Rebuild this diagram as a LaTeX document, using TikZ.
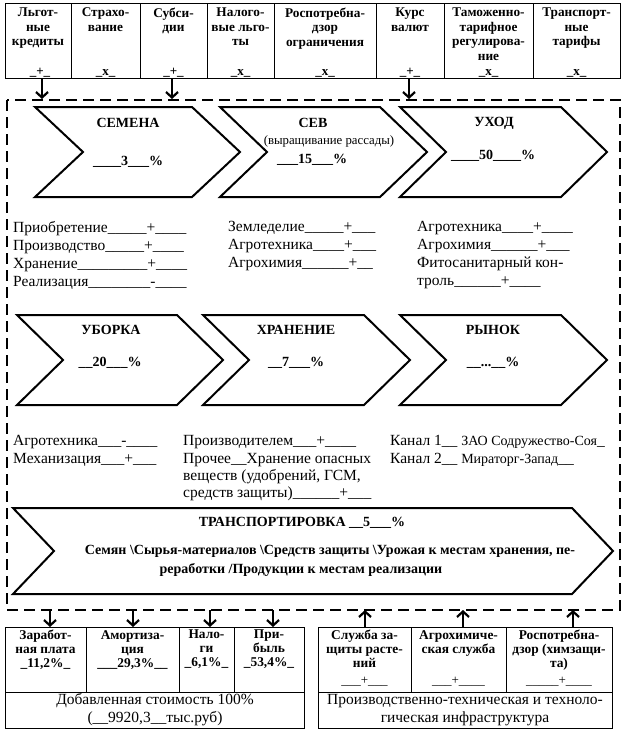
\documentclass[tikz,border=0pt]{standalone}
\usepackage{fontspec}
\setmainfont{Liberation Serif}
\usetikzlibrary{arrows.meta}
\newcommand\mychev[5]{%
  \draw[chev] (#1,#3) -- ({#2-#5},#3) -- (#2,{(#3+#4)/2}) -- ({#2-#5},#4) -- (#1,#4) -- ({#1+#5},{(#3+#4)/2}) -- cycle;}
\begin{document}
\begin{tikzpicture}[x=1pt,y=-1pt,
  tbl/.style={line width=0.8pt},
  chev/.style={line width=2pt, line join=miter},
  dashbox/.style={line width=2pt, dash pattern=on 11pt off 6pt},
  arr/.style={line width=2.2pt, -{Straight Barb[length=5.5pt,width=12pt]}},
  hdr/.style={font=\fontsize{13.3}{14.6}\selectfont\bfseries, align=center, inner sep=0, anchor=north},
  signlbl/.style={font=\fontsize{13}{14.5}\selectfont\bfseries, inner sep=0, anchor=base},
  ctitle/.style={font=\fontsize{14}{16}\selectfont\bfseries, inner sep=0},
  csub/.style={font=\fontsize{12.8}{14}\selectfont, inner sep=0},
  lst/.style={font=\fontsize{15.5}{18}\selectfont, align=left, inner sep=0, anchor=north west},
  lstb/.style={lst, font=\fontsize{15.5}{17.3}\selectfont},
  ttl/.style={font=\fontsize{14}{16}\selectfont\bfseries, inner sep=0},
  cell/.style={font=\fontsize{13.4}{14}\selectfont\bfseries, align=center, inner sep=0, anchor=north},
  plainlbl/.style={font=\fontsize{13}{14}\selectfont, inner sep=0, anchor=base},
  big/.style={font=\fontsize{15.5}{18}\selectfont, align=center, inner sep=0}
]
\useasboundingbox[fill=white] (0,0) rectangle (624,736);

% ---------- header table ----------
\draw[tbl] (5,3) rectangle (620,78);
\foreach \x in {71,140,207,274,376,444,533} \draw[tbl] (\x,3) -- (\x,78);
\node[hdr] (h1) at (38,7.5) {Льгот-\\ные\\кредиты};
\node[hdr] (h2) at (105.5,7.5) {Страхо-\\вание};
\node[hdr] (h3) at (173.5,7.5) {Субси-\\дии};
\node[hdr] (h4) at (240.5,7.5) {Налого-\\вые льго-\\ты};
\node[hdr] (h5) at (325,7.5) {Роспотребна-\\дзор\\ограничения};
\node[hdr] (h6) at (410,7.5) {Курс\\валют};
\node[hdr] (h7) at (488.5,7.5) {Таможенно-\\тарифное\\регулирова-\\ние};
\node[hdr] (h8) at (576.5,7.5) {Транспорт-\\ные\\тарифы};
\node[signlbl] (m1) at (40,75) {\_+\_};
\node[signlbl] (m2) at (105.5,75) {\_x\_};
\node[signlbl] (m3) at (173.5,75) {\_+\_};
\node[signlbl] (m4) at (240.5,75) {\_x\_};
\node[signlbl] (m5) at (325,75) {\_x\_};
\node[signlbl] (m6) at (410,75) {\_+\_};
\node[signlbl] (m7) at (488.5,75) {\_x\_};
\node[signlbl] (m8) at (576.5,75) {\_x\_};

% ---------- dashed frame ----------
\draw[dashbox] (7,100) rectangle (620,610);

% arrows from header into frame
\coordinate (ta1) at (42,79);  \coordinate (tb1) at (42,99);
\coordinate (ta2) at (172,79); \coordinate (tb2) at (172,99);
\coordinate (ta3) at (409,79); \coordinate (tb3) at (409,99);
\draw[arr] (ta1) -- (tb1);
\draw[arr] (ta2) -- (tb2);
\draw[arr] (ta3) -- (tb3);

% ---------- row 1 chevrons ----------
\mychev{35}{240}{107}{197}{48}
\mychev{220}{427}{107}{197}{47}
\mychev{400}{607}{107}{197}{46}
\node[ctitle] (c1t) at (128,123) {СЕМЕНА};
\node[ctitle] (c1p) at (128,162) {\_\_\_\_3\_\_\_\%};
\node[ctitle] (c2t) at (313,123) {СЕВ};
\node[csub] (c2s) at (329,141) {(выращивание рассады)};
\node[ctitle] (c2p) at (312,160) {\_\_\_15\_\_\_\%};
\node[ctitle] (c3t) at (494,123) {УХОД};
\node[ctitle] (c3p) at (493,156) {\_\_\_\_50\_\_\_\_\%};

% lists row 1
\node[lst] (l1) at (13,221.5) {Приобретение\_\_\_\_\_+\_\_\_\_\\Производство\_\_\_\_\_+\_\_\_\_\\Хранение\_\_\_\_\_\_\_\_\_+\_\_\_\_\\Реализация\_\_\_\_\_\_\_\_-\_\_\_\_};
\node[lst] (l2) at (228,221.5) {Земледелие\_\_\_\_\_+\_\_\_\\Агротехника\_\_\_\_+\_\_\_\\Агрохимия\_\_\_\_\_\_+\_\_};
\node[lst] (l3) at (417,221.5) {Агротехника\_\_\_\_+\_\_\_\_\\Агрохимия\_\_\_\_\_\_+\_\_\_\\Фитосанитарный кон-\\троль\_\_\_\_\_\_+\_\_\_\_};

% ---------- row 2 chevrons ----------
\mychev{17}{223}{315}{405}{46}
\mychev{203}{410}{315}{405}{46}
\mychev{400}{607}{315}{405}{46}
\node[ctitle] (c4t) at (111,330) {УБОРКА};
\node[ctitle] (c4p) at (110,363) {\_\_20\_\_\_\%};
\node[ctitle] (c5t) at (296,330) {ХРАНЕНИЕ};
\node[ctitle] (c5p) at (296,363) {\_\_7\_\_\_\%};
\node[ctitle] (c6t) at (493,330) {РЫНОК};
\node[ctitle] (c6p) at (493,363) {\_\_...\_\_\%};

% lists row 2
\node[lstb] (l4) at (13,435.5) {Агротехника\_\_\_-\_\_\_\_\\Механизация\_\_\_+\_\_\_};
\node[lstb] (l5) at (183,435.5) {Производителем\_\_\_+\_\_\_\_\\Прочее\_\_Хранение опасных\\веществ (удобрений, ГСМ,\\средств защиты)\_\_\_\_\_\_+\_\_\_};
\node[lstb] (l6) at (390,435.5) {Канал 1\_\_ {\fontsize{14}{17.3}\selectfont ЗАО Содружество-Соя}\_\\Канал 2\_\_ {\fontsize{14}{17.3}\selectfont Мираторг-Запад}\_\_};

% ---------- transport chevron ----------
\mychev{13}{613}{508}{594}{41}
\node[ttl] (tt) at (302,523) {ТРАНСПОРТИРОВКА \_\_5\_\_\_\%};
\node[ttl] (tl1) at (330,551) {Семян \textbackslash Сырья-материалов \textbackslash Средств защиты \textbackslash Урожая к местам хранения, пе-};
\node[ttl] (tl2) at (301,570) {реработки /Продукции к местам реализации};

% ---------- bottom-left table ----------
\draw[tbl] (5,627) rectangle (304,728);
\draw[tbl] (5,692) -- (304,692);
\foreach \x in {86,179,234} \draw[tbl] (\x,627) -- (\x,692);
\node[cell] (b1) at (45.5,630) {Заработ-\\ная плата\\\_11,2\%\_};
\node[cell] (b2) at (132.5,630) {Амортиза-\\ция\\\_\_\_29,3\%\_\_};
\node[cell] (b3) at (206.5,630) {Нало-\\ги\\\_6,1\%\_};
\node[cell] (b4) at (269,630) {При-\\быль\\\_53,4\%\_};
\node[big] (bs) at (155,710) {Добавленная стоимость 100\%\\(\_\_9920,3\_\_тыс.руб)};

\coordinate (da1) at (50,610);  \coordinate (db1) at (50,627);
\coordinate (da2) at (133,610); \coordinate (db2) at (133,627);
\coordinate (da3) at (210,610); \coordinate (db3) at (210,627);
\coordinate (da4) at (273,610); \coordinate (db4) at (273,627);
\draw[arr] (da1) -- (db1);
\draw[arr] (da2) -- (db2);
\draw[arr] (da3) -- (db3);
\draw[arr] (da4) -- (db4);

% ---------- bottom-right table ----------
\draw[tbl] (318,627) rectangle (612,728);
\draw[tbl] (318,692) -- (612,692);
\foreach \x in {411,506} \draw[tbl] (\x,627) -- (\x,692);
\node[cell] (r1) at (364.5,630) {Служба за-\\щиты расте-\\ний};
\node[cell] (r2) at (458.5,630) {Агрохимиче-\\ская служба};
\node[cell] (r3) at (559,630) {Роспотребна-\\дзор (химзащи-\\та)};
\node[plainlbl] (p1) at (364.5,684) {\_\_\_+\_\_\_};
\node[plainlbl] (p2) at (458.5,684) {\_\_\_+\_\_\_\_};
\node[plainlbl] (p3) at (559,684) {\_\_\_\_\_+\_\_\_\_};
\node[big] (rs) at (465,710) {Производственно-техническая и техноло-\\гическая инфраструктура};

\coordinate (ua1) at (365,627); \coordinate (ub1) at (365,610);
\coordinate (ua2) at (463,627); \coordinate (ub2) at (463,610);
\coordinate (ua3) at (573,627); \coordinate (ub3) at (573,610);
\draw[arr] (ua1) -- (ub1);
\draw[arr] (ua2) -- (ub2);
\draw[arr] (ua3) -- (ub3);
\end{tikzpicture}
\end{document}
